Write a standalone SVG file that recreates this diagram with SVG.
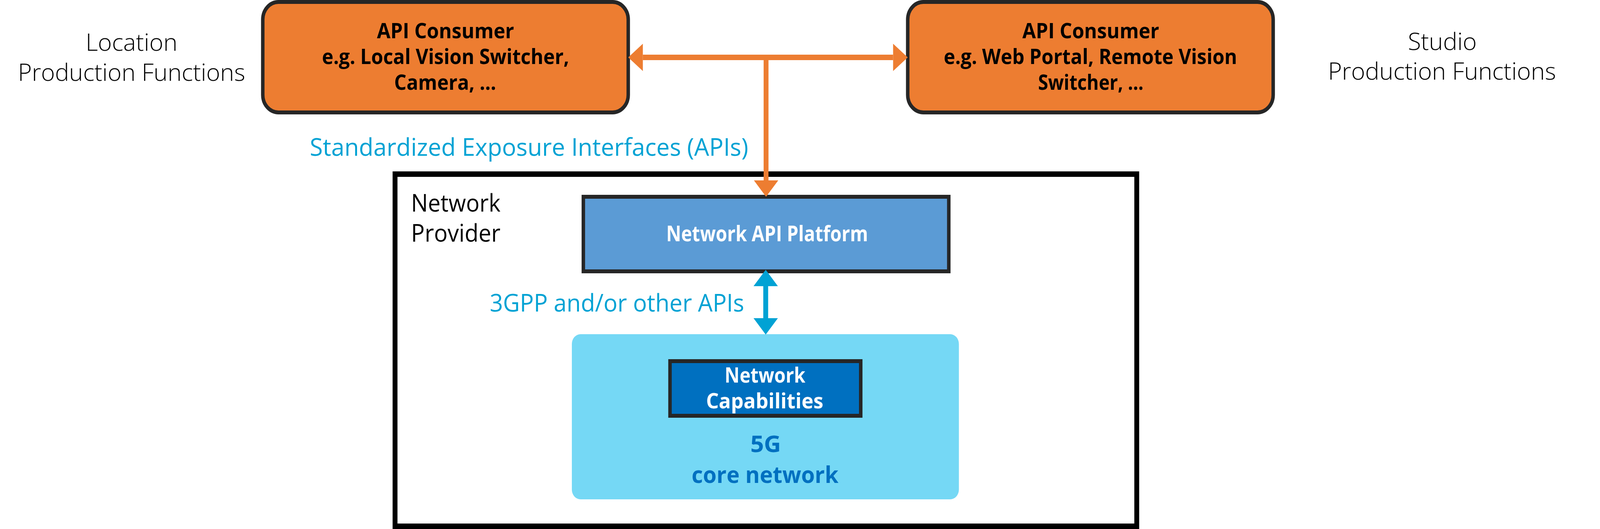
<svg xmlns="http://www.w3.org/2000/svg" width="4597" height="1355" viewBox="0 0 4597 1355" preserveAspectRatio="none">
  <style>
    svg { width: 100vw; height: 100vh; }
    text { font-family: "Open Sans", "Liberation Sans", sans-serif; }
    .side { font-size: 60px; font-weight: 300; fill: #000; text-anchor: middle; }
    .cons { font-size: 53px; font-weight: 700; fill: #000; text-anchor: middle; }
    .iface { font-size: 62px; font-weight: 400; fill: #00A2D4; }
    .prov { font-size: 62px; font-weight: 400; fill: #000; }
    .white { font-weight: 700; fill: #fff; text-anchor: middle; }
    .core { font-size: 60px; font-weight: 700; fill: #0070C0; text-anchor: middle; }
    .orangebox { fill: #ED7D31; stroke: #262626; stroke-width: 10; }
    .darkbox { stroke: #262626; stroke-width: 10; }
    .orangeline { stroke: #ED7D31; stroke-width: 14; fill: none; }
    .blueline { stroke: #00A2D4; stroke-width: 14; fill: none; }
  </style>
  <defs>
    <marker id="arrO" markerUnits="userSpaceOnUse" markerWidth="42" markerHeight="70" refX="0" refY="35" orient="auto-start-reverse" viewBox="0 0 42 70">
      <path d="M0,0 L42,35 L0,70 Z" fill="#ED7D31"/>
    </marker>
    <marker id="arrB" markerUnits="userSpaceOnUse" markerWidth="42" markerHeight="70" refX="0" refY="35" orient="auto-start-reverse" viewBox="0 0 42 70">
      <path d="M0,0 L42,35 L0,70 Z" fill="#00A2D4"/>
    </marker>
  </defs>
  <rect width="4597" height="1355" fill="#fff"/>

  <g id="network-provider">
    <rect x="1135" y="446" width="2131" height="902" fill="#fff" stroke="#000" stroke-width="14"/>
    <text class="prov" x="1181" y="542" textLength="257" lengthAdjust="spacingAndGlyphs">Network</text>
    <text class="prov" x="1181" y="619" textLength="257" lengthAdjust="spacingAndGlyphs">Provider</text>
  </g>

  <g id="location-label">
    <text class="side" x="378" y="130" textLength="264" lengthAdjust="spacingAndGlyphs">Location</text>
    <text class="side" x="378" y="207" textLength="653" lengthAdjust="spacingAndGlyphs">Production Functions</text>
  </g>

  <g id="studio-label">
    <text class="side" x="4144" y="128" textLength="198" lengthAdjust="spacingAndGlyphs">Studio</text>
    <text class="side" x="4143" y="204" textLength="655" lengthAdjust="spacingAndGlyphs">Production Functions</text>
  </g>

  <g id="consumer-local">
    <rect class="orangebox" x="755" y="5" width="1050" height="283" rx="45" ry="45"/>
    <text class="cons" x="1280" y="98" textLength="394" lengthAdjust="spacingAndGlyphs">API Consumer</text>
    <text class="cons" x="1280" y="164" textLength="710" lengthAdjust="spacingAndGlyphs">e.g. Local Vision Switcher,</text>
    <text class="cons" x="1279" y="230" textLength="293" lengthAdjust="spacingAndGlyphs">Camera, …</text>
  </g>

  <g id="consumer-studio">
    <rect class="orangebox" x="2608" y="5" width="1050" height="283" rx="45" ry="45"/>
    <text class="cons" x="3134" y="98" textLength="393" lengthAdjust="spacingAndGlyphs">API Consumer</text>
    <text class="cons" x="3133" y="164" textLength="843" lengthAdjust="spacingAndGlyphs">e.g. Web Portal, Remote Vision</text>
    <text class="cons" x="3134" y="230" textLength="303" lengthAdjust="spacingAndGlyphs">Switcher, …</text>
  </g>

  <g id="network-api-platform">
    <rect class="darkbox" x="1676" y="504" width="1050" height="191" fill="#5B9BD5"/>
    <text class="white" x="2204" y="618" font-size="55" textLength="580" lengthAdjust="spacingAndGlyphs">Network API Platform</text>
  </g>

  <g id="core-network">
    <rect x="1643" y="856" width="1112" height="423" rx="25" ry="25" fill="#75D8F5"/>
    <text class="core" x="2200" y="1158" textLength="88" lengthAdjust="spacingAndGlyphs">5G</text>
    <text class="core" x="2198" y="1237" textLength="422" lengthAdjust="spacingAndGlyphs">core network</text>
  </g>

  <g id="network-capabilities">
    <rect class="darkbox" x="1925" y="925" width="548" height="140" fill="#0070C0"/>
    <text class="white" x="2198" y="980" font-size="53" textLength="232" lengthAdjust="spacingAndGlyphs">Network</text>
    <text class="white" x="2197" y="1046" font-size="53" textLength="337" lengthAdjust="spacingAndGlyphs">Capabilities</text>
  </g>

  <g id="connectors">
    <line class="orangeline" x1="1847" y1="147" x2="2566" y2="147" marker-start="url(#arrO)" marker-end="url(#arrO)"/>
    <line class="orangeline" x1="2201" y1="147" x2="2201" y2="462" marker-end="url(#arrO)"/>
    <line class="blueline" x1="2200" y1="733" x2="2200" y2="815" marker-start="url(#arrB)" marker-end="url(#arrB)"/>
    <text class="iface" x="890" y="399" textLength="1260" lengthAdjust="spacingAndGlyphs">Standardized Exposure Interfaces (APIs)</text>
    <text class="iface" x="1407" y="798" textLength="731" lengthAdjust="spacingAndGlyphs">3GPP and/or other APIs</text>
  </g>
</svg>
